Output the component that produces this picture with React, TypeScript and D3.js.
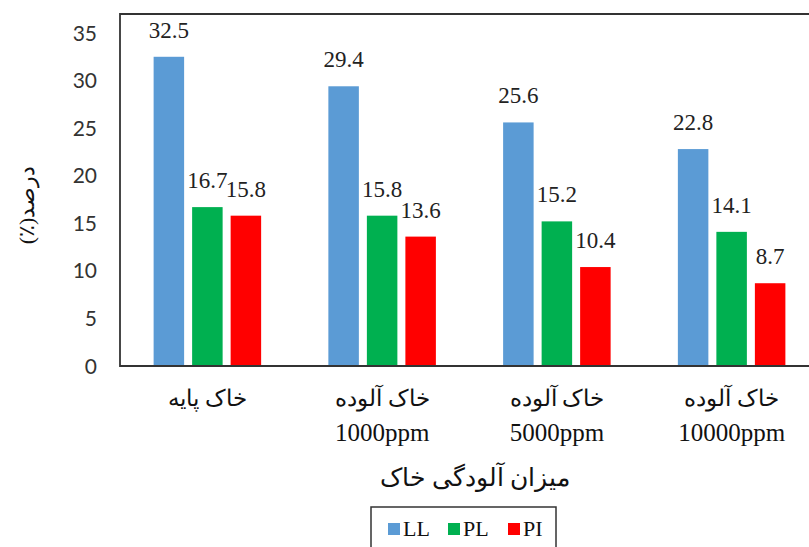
import React from "react";
import * as d3 from "d3";

const categoriesLine1 = ["خاک پایه", "خاک آلوده", "خاک آلوده", "خاک آلوده"];
const categoriesLine2 = ["", "1000ppm", "5000ppm", "10000ppm"];
const seriesNames = ["LL", "PL", "PI"];
const seriesColors = ["#5B9BD5", "#00B050", "#FF0000"];
const LL = [32.5, 29.4, 25.6, 22.8];
const PL = [16.7, 15.8, 15.2, 14.1];
const PI = [15.8, 13.6, 10.4, 8.7];
const yTicks = [0, 5, 10, 15, 20, 25, 30, 35];
const xTitle = "میزان آلودگی خاک";
const yTitle = "درصد(٪)";

export default function App() {
  const W = 809;
  const H = 547;
  const left = 120;
  const right = 819;
  const top = 14;
  const bottom = 366;
  const series = [LL, PL, PI];

  const x0 = d3.scaleBand<number>().domain(d3.range(categoriesLine1.length)).range([left, right]).paddingInner(0).paddingOuter(0);
  const x1 = d3.scaleBand<number>().domain(d3.range(seriesNames.length)).range([0, x0.bandwidth()]).paddingInner(0.208).paddingOuter(0.873);
  const y = d3.scaleLinear().domain([0, 35]).range([bottom, 33]);

  const serif = "'Liberation Serif', 'Times New Roman', serif";
  const sans = "'Lato', 'Liberation Sans', sans-serif";
  const persian = "serif";

  return (
    <svg width={W} height={H} style={{ position: "absolute", left: 0, top: 0, background: "#fff" }}>
      <rect x={0} y={0} width={W} height={H} fill="#fff" />
      {series.map((vals, si) =>
        vals.map((v, ci) => (
          <rect
            key={`b${si}-${ci}`}
            x={(x0(ci) as number) + (x1(si) as number)}
            y={y(v)}
            width={x1.bandwidth()}
            height={bottom - y(v)}
            fill={seriesColors[si]}
          />
        ))
      )}
      {series.map((vals, si) =>
        vals.map((v, ci) => (
          <text
            key={`l${si}-${ci}`}
            x={(x0(ci) as number) + (x1(si) as number) + x1.bandwidth() / 2}
            y={y(v) - 19}
            textAnchor="middle"
            style={{ fontFamily: serif, fontSize: 23 }}
            fill="#222"
          >
            {v.toFixed(1)}
          </text>
        ))
      )}
      <path d={`M${right + 2},${top} H${left} V${bottom} H${right + 2}`} fill="none" stroke="#333" strokeWidth={1.8} />
      {yTicks.map((t) => (
        <text key={`t${t}`} x={97} y={y(t)} dy="0.36em" textAnchor="end" style={{ fontFamily: sans, fontSize: 21 }} fill="#333">
          {t}
        </text>
      ))}
      <text
        transform={`translate(34,205) rotate(-90)`}
        textAnchor="middle"
        direction="rtl"
        style={{ fontFamily: persian, fontSize: 22, direction: "rtl", unicodeBidi: "embed" }}
        fill="#111"
      >
        {yTitle}
      </text>
      {categoriesLine1.map((c, i) => (
        <g key={`c${i}`}>
          <text
            x={(x0(i) as number) + x0.bandwidth() / 2}
            y={406}
            textAnchor="middle"
            style={{ fontFamily: persian, fontSize: 23 }}
            fill="#111"
          >
            {c}
          </text>
          <text
            x={(x0(i) as number) + x0.bandwidth() / 2}
            y={441}
            textAnchor="middle"
            style={{ fontFamily: serif, fontSize: 25 }}
            fill="#111"
          >
            {categoriesLine2[i]}
          </text>
        </g>
      ))}
      <text x={475} y={486} textAnchor="middle" style={{ fontFamily: persian, fontSize: 25 }} fill="#111">
        {xTitle}
      </text>
      <rect x={371} y={507} width={185} height={60} fill="none" stroke="#333" strokeWidth={1.5} />
      {seriesNames.map((s, i) => (
        <g key={`lg${i}`}>
          <rect x={388 + i * 60} y={523} width={12} height={12} fill={seriesColors[i]} />
          <text x={403 + i * 60} y={536} style={{ fontFamily: serif, fontSize: 22 }} fill="#111">
            {s}
          </text>
        </g>
      ))}
    </svg>
  );
}
